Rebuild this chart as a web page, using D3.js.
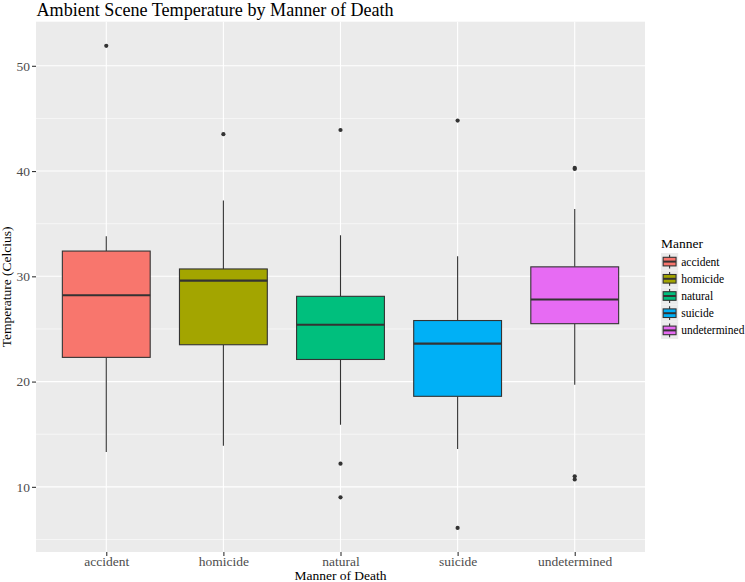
<!DOCTYPE html>
<html>
<head>
<meta charset="utf-8">
<script src="https://cdn.jsdelivr.net/npm/d3@7"></script>
<style>
  html, body { margin: 0; padding: 0; background: #ffffff; }
  svg { display: block; }
  text { font-family: "Liberation Serif", "Times New Roman", serif; }
</style>
</head>
<body>
<svg id="chart" width="745" height="582"></svg>
<script>
// ---- data ----
const categories = ["accident", "homicide", "natural", "suicide", "undetermined"];
const lowerWhisker = [13.3, 13.9, 15.9, 13.6, 19.7];
const q1 = [22.3, 23.5, 22.1, 18.6, 25.5];
const median = [28.2, 29.6, 25.4, 23.6, 27.8];
const q3 = [32.4, 30.7, 28.1, 25.8, 30.9];
const upperWhisker = [33.8, 37.2, 33.9, 31.9, 36.4];
const outliers = [
  [51.9],
  [43.5],
  [43.9, 12.2, 9.0],
  [44.8, 6.1],
  [40.3, 40.2, 11.0, 10.7]
];
const colors = ["#F8766D", "#A3A500", "#00BF7D", "#00B0F6", "#E76BF3"];
const yMajorTicks = [10, 20, 30, 40, 50];
const yMinorTicks = [5, 15, 25, 35, 45];
const titleText = "Ambient Scene Temperature by Manner of Death";
const xTitle = "Manner of Death";
const yTitle = "Temperature (Celcius)";
const legendTitle = "Manner";

// ---- layout ----
const svg = d3.select("#chart");
const panel = { left: 36, right: 645, top: 21.7, bottom: 552 };

const allVals = lowerWhisker.concat(upperWhisker, outliers.flat());
const vmin = d3.min(allVals), vmax = d3.max(allVals);
const pad = (vmax - vmin) * 0.05;
const y = d3.scaleLinear().domain([vmin - pad, vmax + pad]).range([panel.bottom, panel.top]);
// discrete x scale with ggplot-style expansion (0.6 of a step on each side)
const x = d3.scalePoint().domain(categories).range([panel.left, panel.right]).padding(0.6);
const step = x.step();
const boxW = 0.75 * step;

// panel background
svg.append("rect").attr("x", panel.left).attr("y", panel.top)
  .attr("width", panel.right - panel.left).attr("height", panel.bottom - panel.top)
  .attr("fill", "#EBEBEB");

// grid
const g = svg.append("g");
g.selectAll(".minor").data(yMinorTicks).enter().append("line")
  .attr("x1", panel.left).attr("x2", panel.right)
  .attr("y1", d => y(d)).attr("y2", d => y(d))
  .attr("stroke", "#ffffff").attr("stroke-width", 0.55);
g.selectAll(".major").data(yMajorTicks).enter().append("line")
  .attr("x1", panel.left).attr("x2", panel.right)
  .attr("y1", d => y(d)).attr("y2", d => y(d))
  .attr("stroke", "#ffffff").attr("stroke-width", 1.1);
g.selectAll(".vmajor").data(categories).enter().append("line")
  .attr("x1", d => x(d)).attr("x2", d => x(d))
  .attr("y1", panel.top).attr("y2", panel.bottom)
  .attr("stroke", "#ffffff").attr("stroke-width", 1.1);

// boxes
const boxes = svg.append("g");
categories.forEach((c, i) => {
  const xc = x(c);
  const grp = boxes.append("g");
  grp.append("line").attr("x1", xc).attr("x2", xc)
    .attr("y1", y(upperWhisker[i])).attr("y2", y(q3[i]))
    .attr("stroke", "#333333").attr("stroke-width", 1.1);
  grp.append("line").attr("x1", xc).attr("x2", xc)
    .attr("y1", y(q1[i])).attr("y2", y(lowerWhisker[i]))
    .attr("stroke", "#333333").attr("stroke-width", 1.1);
  grp.append("rect").attr("x", xc - boxW / 2).attr("width", boxW)
    .attr("y", y(q3[i])).attr("height", y(q1[i]) - y(q3[i]))
    .attr("fill", colors[i]).attr("stroke", "#333333").attr("stroke-width", 1.1);
  grp.append("line").attr("x1", xc - boxW / 2).attr("x2", xc + boxW / 2)
    .attr("y1", y(median[i])).attr("y2", y(median[i]))
    .attr("stroke", "#333333").attr("stroke-width", 2.2);
  grp.selectAll("circle").data(outliers[i]).enter().append("circle")
    .attr("cx", xc).attr("cy", d => y(d)).attr("r", 2.1)
    .attr("fill", "#333333");
});

// axes
const yAxis = svg.append("g").attr("transform", `translate(${panel.left},0)`)
  .call(d3.axisLeft(y).tickValues(yMajorTicks).tickSize(4).tickPadding(2).tickFormat(d3.format("d")));
yAxis.select(".domain").remove();
yAxis.selectAll(".tick line").attr("stroke", "#333333").attr("stroke-width", 1.1);
yAxis.selectAll(".tick text").attr("fill", "#4D4D4D").style("font-size", "13.5px")
  .style("font-family", "Liberation Serif, serif");

const xAxis = svg.append("g").attr("transform", `translate(0,${panel.bottom})`)
  .call(d3.axisBottom(x).tickSize(4).tickPadding(0));
xAxis.select(".domain").remove();
xAxis.selectAll(".tick line").attr("stroke", "#333333").attr("stroke-width", 1.1);
xAxis.selectAll(".tick text").attr("fill", "#4D4D4D").style("font-size", "13.5px")
  .style("font-family", "Liberation Serif, serif");

// titles
svg.append("text").attr("x", 36.5).attr("y", 16).text(titleText)
  .style("font-size", "18.1px").attr("fill", "#000");
svg.append("text").attr("x", (panel.left + panel.right) / 2).attr("y", 579.5)
  .attr("text-anchor", "middle").text(xTitle).style("font-size", "13.5px").attr("fill", "#000");
svg.append("text").attr("transform", `translate(11,${(panel.top + panel.bottom) / 2}) rotate(-90)`)
  .attr("text-anchor", "middle").text(yTitle).style("font-size", "13.5px").attr("fill", "#000");

// legend
const leg = svg.append("g");
const keyX = 661, keyS = 17.2, keyTop = 253;
leg.append("text").attr("x", keyX).attr("y", keyTop - 5).text(legendTitle)
  .style("font-size", "13.5px").attr("fill", "#000");
categories.forEach((c, i) => {
  const ky = keyTop + i * keyS;
  const k = leg.append("g").attr("transform", `translate(${keyX},${ky})`);
  k.append("rect").attr("width", keyS).attr("height", keyS).attr("fill", "#EBEBEB");
  k.append("line").attr("x1", keyS / 2).attr("x2", keyS / 2).attr("y1", keyS * 0.1).attr("y2", keyS * 0.9)
    .attr("stroke", "#333333").attr("stroke-width", 1.1);
  k.append("rect").attr("x", keyS * 0.125).attr("width", keyS * 0.75)
    .attr("y", keyS * 0.25).attr("height", keyS * 0.5)
    .attr("fill", colors[i]).attr("stroke", "#333333").attr("stroke-width", 1.1);
  k.append("line").attr("x1", keyS * 0.125).attr("x2", keyS * 0.875).attr("y1", keyS / 2).attr("y2", keyS / 2)
    .attr("stroke", "#333333").attr("stroke-width", 2);
  leg.append("text").attr("x", keyX + keyS + 3).attr("y", ky + keyS / 2).attr("dy", "0.35em")
    .text(c).style("font-size", "11.5px").attr("fill", "#000");
});
</script>
</body>
</html>
